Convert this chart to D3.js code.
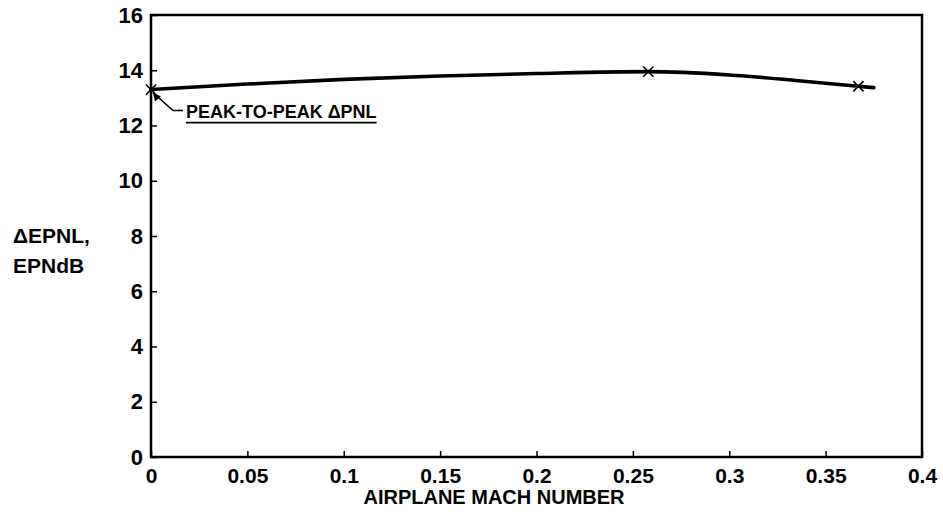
<!DOCTYPE html>
<html>
<head>
<meta charset="utf-8">
<script src="https://cdn.jsdelivr.net/npm/d3@7"></script>
<style>
  html, body { margin: 0; padding: 0; background: #fff; }
  svg { display: block; font-family: "Liberation Sans", Arial, sans-serif; font-weight: bold; }
</style>
</head>
<body>
<svg id="chart" width="943" height="527"></svg>
<script>
// Measured points (marked with crosses)
const machPoints = [0, 0.258, 0.367];
const dEpnlPoints = [13.3, 13.95, 13.42];

// Faired curve through the measurements
const machCurve = [0, 0.05, 0.1, 0.15, 0.2, 0.258, 0.3, 0.336, 0.367, 0.375];
const dEpnlCurve = [13.3, 13.5, 13.67, 13.79, 13.88, 13.95, 13.83, 13.62, 13.42, 13.37];

// Axis ticks
const xTicks = [0, 0.05, 0.1, 0.15, 0.2, 0.25, 0.3, 0.35, 0.4];
const xTickLabels = ["0", "0.05", "0.1", "0.15", "0.2", "0.25", "0.3", "0.35", "0.4"];
const yTicks = [0, 2, 4, 6, 8, 10, 12, 14, 16];

const svg = d3.select("#chart");
const plotL = 151, plotR = 922, plotT = 15, plotB = 457;
const fontFam = "Liberation Sans, Arial, sans-serif";

const x = d3.scaleLinear().domain([0, 0.4]).range([plotL, plotR]);
const y = d3.scaleLinear().domain([0, 16]).range([plotB, plotT]);

// Frame
svg.append("rect")
  .attr("x", plotL).attr("y", plotT)
  .attr("width", plotR - plotL).attr("height", plotB - plotT)
  .attr("fill", "none").attr("stroke", "#000").attr("stroke-width", 2.5);

// Y axis (ticks inside the frame)
const yAxis = d3.axisLeft(y).tickValues(yTicks).tickSizeInner(-6).tickSizeOuter(0).tickPadding(8);
const gy = svg.append("g").attr("transform", `translate(${plotL},0)`).call(yAxis);
gy.select(".domain").remove();
gy.selectAll(".tick line").attr("stroke", "#000").attr("stroke-width", 1.5);
gy.selectAll(".tick text")
  .attr("font-size", 22).attr("font-weight", "bold").attr("fill", "#000")
  .attr("font-family", fontFam);

// X axis (ticks inside the frame)
const xAxis = d3.axisBottom(x).tickValues(xTicks)
  .tickFormat((d, i) => xTickLabels[i]).tickSizeInner(-6).tickSizeOuter(0).tickPadding(11);
const gx = svg.append("g").attr("transform", `translate(0,${plotB})`).call(xAxis);
gx.select(".domain").remove();
gx.selectAll(".tick line").attr("stroke", "#000").attr("stroke-width", 1.5);
gx.selectAll(".tick text")
  .attr("font-size", 21).attr("font-weight", "bold").attr("fill", "#000")
  .attr("font-family", fontFam);

// Axis titles
svg.append("text")
  .attr("x", 494).attr("y", 504)
  .attr("text-anchor", "middle").attr("font-size", 20).attr("fill", "#000")
  .text("AIRPLANE MACH NUMBER");

const yTitle = svg.append("text").attr("font-size", 21).attr("fill", "#000");
yTitle.append("tspan").attr("x", 13).attr("y", 243).text("\u0394EPNL,");
yTitle.append("tspan").attr("x", 13).attr("y", 273).text("EPNdB");

// Faired curve
const curveData = machCurve.map((m, i) => [m, dEpnlCurve[i]]);
svg.append("path")
  .datum(curveData)
  .attr("fill", "none").attr("stroke", "#000").attr("stroke-width", 3.6)
  .attr("stroke-linecap", "round")
  .attr("d", d3.line().x(d => x(d[0])).y(d => y(d[1])).curve(d3.curveMonotoneX));

// Cross markers at the measured points
const cross = d3.symbol().type(d3.symbolX).size(70);
svg.selectAll(".pt")
  .data(machPoints.map((m, i) => [m, dEpnlPoints[i]]))
  .enter().append("path")
  .attr("class", "pt")
  .attr("transform", d => `translate(${x(d[0])},${y(d[1])})`)
  .attr("d", cross)
  .attr("fill", "#000").attr("stroke", "#000").attr("stroke-width", 1.6);

// Annotation with leader line
const ax = x(machPoints[0]), ay = y(dEpnlPoints[0]);
svg.append("path")
  .attr("d", `M${ax + 2},${ay + 3} L${ax + 22},${ay + 21} L${ax + 32},${ay + 21}`)
  .attr("fill", "none").attr("stroke", "#000").attr("stroke-width", 1.5);
svg.append("path")
  .attr("d", `M${ax + 2},${ay + 3} L${ax + 4},${ay + 12} L${ax + 10},${ay + 7} Z`)
  .attr("fill", "#000");
const lbl = svg.append("text")
  .attr("x", ax + 35).attr("y", ay + 28)
  .attr("font-size", 18).attr("fill", "#000")
  .text("PEAK-TO-PEAK \u0394PNL");
const bb = lbl.node().getBBox();
svg.append("line")
  .attr("x1", bb.x).attr("x2", bb.x + bb.width)
  .attr("y1", ay + 33).attr("y2", ay + 33)
  .attr("stroke", "#000").attr("stroke-width", 1.6);
</script>
</body>
</html>
